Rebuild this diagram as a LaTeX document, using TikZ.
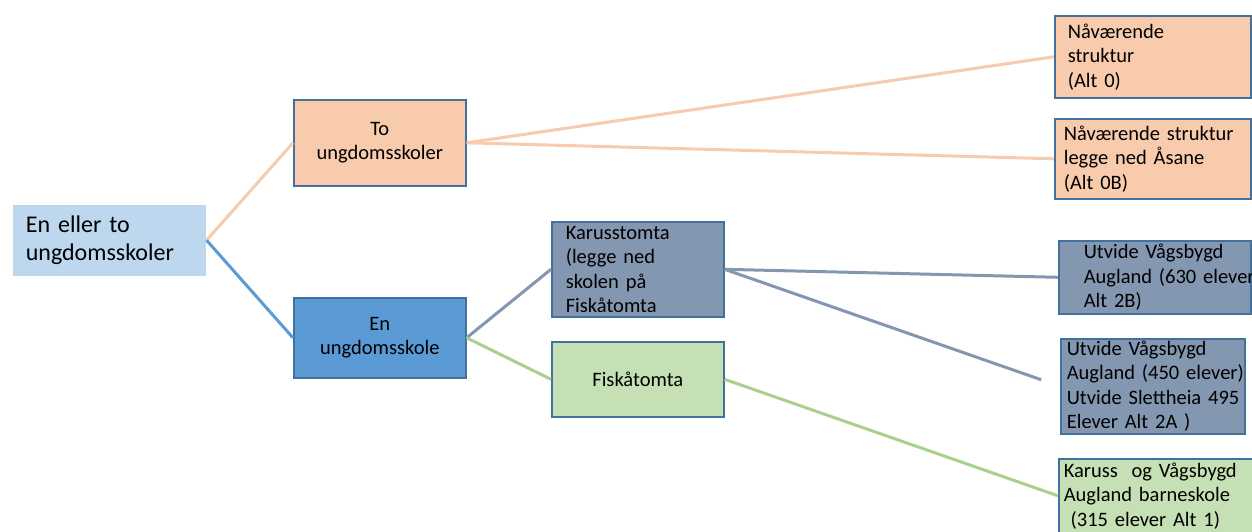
\documentclass[tikz,border=0pt]{standalone}
\usepackage{fontspec}
\setmainfont{Carlito}
\definecolor{peach}{HTML}{F8CBAD}
\definecolor{midblue}{HTML}{5B9BD5}
\definecolor{lightblue}{HTML}{BDD7EE}
\definecolor{greyblue}{HTML}{8497B0}
\definecolor{lgreen}{HTML}{C5E0B4}
\definecolor{lgreenline}{HTML}{A9D18E}
\definecolor{bord}{HTML}{41719C}
\tikzset{
  box/.style={anchor=north west, draw=bord, line width=1.6pt, font=\fontsize{20.5}{24.5}\selectfont, inner ysep=0pt},
  conn/.style={line width=3pt}
}
\begin{document}
\begin{tikzpicture}[x=1pt,y=-1pt]
\useasboundingbox (0,0) rectangle (1252,532);
\fill[white] (0,0) rectangle (1252,532);
% nodes
\node[box, draw=none, fill=lightblue, minimum height=71pt, text width=167pt, inner xsep=13pt, align=left, font=\fontsize{24}{28}\selectfont] (root) at (12,204) {\mbox{En eller to}\\\mbox{ungdomsskoler}};
\node[box, fill=peach, minimum height=86pt, text width=150pt, inner xsep=11pt, align=center] (to) at (293,99) {To\\ungdomsskoler};
\node[box, fill=midblue, minimum height=80pt, text width=150pt, inner xsep=11pt, align=center] (en) at (293,297) {En\\ungdomsskole};
\node[box, fill=greyblue, minimum height=95pt, text width=144pt, inner xsep=14pt, align=left] (karus) at (551,221) {Karusstomta\\\mbox{(legge ned}\\\mbox{skolen på}\\Fiskåtomta};
\node[box, fill=lgreen, minimum height=75pt, text width=150pt, inner xsep=11pt, align=center] (fisk) at (551,341) {Fiskåtomta};
\node[box, fill=peach, minimum height=82pt, text width=170pt, inner xsep=13pt, align=left] (alt0) at (1054,15) {Nåværende\\struktur\\\mbox{(Alt 0)}};
\node[box, fill=peach, minimum height=80pt, text width=178pt, inner xsep=9pt, align=left] (alt0b) at (1054,118) {\mbox{Nåværende struktur}\\\mbox{legge ned Åsane}\\\mbox{(Alt 0B)}};
\node[box, fill=greyblue, minimum height=73pt, text width=142pt, inner xsep=25pt, align=left] (alt2b) at (1058,240) {\mbox{Utvide Vågsbygd}\\\mbox{Augland (630 elever}\\\mbox{Alt 2B)}};
\node[box, fill=greyblue, minimum height=95pt, text width=172pt, inner xsep=6pt, align=left] (alt2a) at (1060,338) {\mbox{Utvide Vågsbygd}\\\mbox{Augland (450 elever)}\\\mbox{Utvide Slettheia 495}\\\mbox{Elever Alt 2A )}};
\node[box, fill=lgreen, minimum height=74pt, text width=184pt, inner xsep=5pt, align=left] (karuss) at (1058,458) {\mbox{Karuss\ \ og Vågsbygd}\\\mbox{Augland barneskole}\\\mbox{\ (315 elever Alt 1)}};
% connectors
\draw[conn, peach] (root.east) -- (to.west);
\draw[conn, midblue] (root.east) -- (en.west);
\draw[conn, peach] (to.east) -- (alt0.west);
\draw[conn, peach] (to.east) -- (alt0b.west);
\draw[conn, greyblue] (en.east) -- (karus.west);
\draw[conn, lgreenline] (en.east) -- (fisk.west);
\draw[conn, greyblue] (karus.east) -- (alt2b.west);
\draw[conn, greyblue, shorten >=20pt] (karus.east) -- (alt2a.west);
\draw[conn, lgreenline] (fisk.east) -- (karuss.west);
\end{tikzpicture}
\end{document}
